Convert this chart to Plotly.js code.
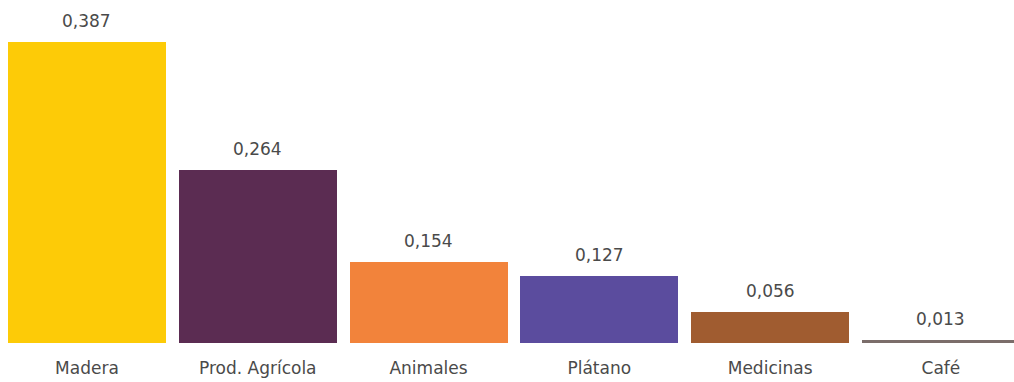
<!DOCTYPE html>
<html>
<head>
<meta charset="utf-8">
<script src="https://cdn.plot.ly/plotly-3.0.1.min.js"></script>
<style>
  html, body { margin: 0; padding: 0; background: #ffffff; }
  #chart { width: 1014px; height: 382px; }
</style>
</head>
<body>
<div id="chart"></div>
<script>
// Categories (bottom labels)
const categories = ["Madera", "Prod. Agrícola", "Animales", "Plátano", "Medicinas", "Café"];
// Values printed above each bar
const valueLabels = ["0,387", "0,264", "0,154", "0,127", "0,056", "0,013"];
// Bar heights as drawn in the picture (same units, Madera = 0.387)
const barHeights = [0.387, 0.222, 0.104, 0.086, 0.040, 0.0035];
// Bar colours
const barColors = ["#FDCB07", "#5B2C52", "#F2833B", "#5B4C9E", "#A05C30", "#7B6D6A"];

const textFont = { family: "'DejaVu Sans', sans-serif", size: 17, color: "#4a4a4a" };

const trace = {
  type: "bar",
  x: categories,
  y: barHeights,
  width: 0.925,
  marker: { color: barColors, line: { width: 0 } },
  hoverinfo: "none",
  cliponaxis: false
};

const annotations = categories.map((c, i) => ({
  x: c,
  y: barHeights[i],
  xref: "x",
  yref: "y",
  text: valueLabels[i],
  showarrow: false,
  yanchor: "bottom",
  yshift: 9,
  font: textFont
}));

const layout = {
  width: 1014,
  height: 382,
  margin: { l: 0, r: 0, t: 0, b: 39, pad: 0 },
  paper_bgcolor: "#ffffff",
  plot_bgcolor: "#ffffff",
  showlegend: false,
  bargap: 0,
  xaxis: {
    type: "category",
    range: [-0.509, 5.428],
    showgrid: false,
    zeroline: false,
    showline: false,
    ticks: "",
    ticklabelstandoff: 13,
    tickfont: textFont,
    fixedrange: true
  },
  yaxis: {
    range: [0, 0.441],
    visible: false,
    showgrid: false,
    zeroline: false,
    fixedrange: true
  },
  annotations: annotations
};

Plotly.newPlot("chart", [trace], layout, { displayModeBar: false, staticPlot: true });
</script>
</body>
</html>
